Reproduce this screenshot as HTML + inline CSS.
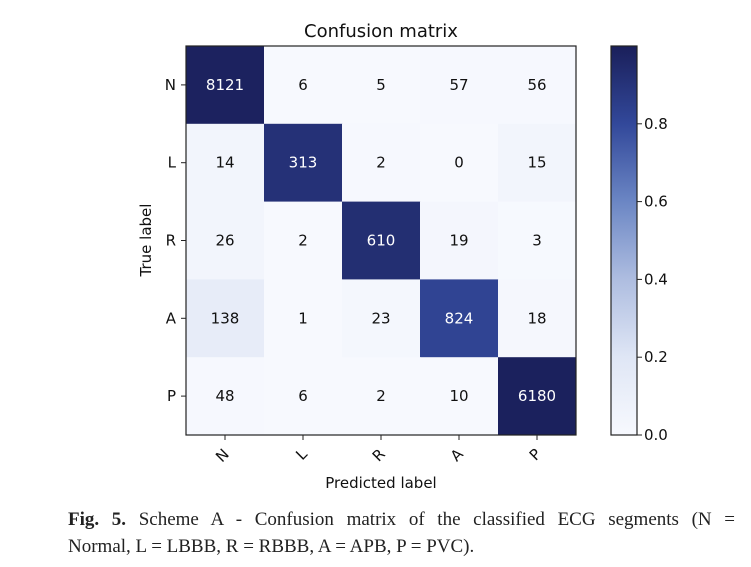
<!DOCTYPE html>
<html><head><meta charset="utf-8"><style>
body{margin:0;background:#fff;width:751px;height:567px;overflow:hidden;font-family:"DejaVu Sans","Liberation Sans",sans-serif}
.cap{position:absolute;left:68px;width:667px;top:506px;font-family:"Liberation Serif",serif;font-size:19px;line-height:27px;color:#222}
.l1{text-align:justify;text-align-last:justify;white-space:nowrap;word-spacing:-1px}
</style></head><body>
<svg id="chart" width="751" height="500" style="position:absolute;left:0;top:0">
<defs><linearGradient id="cb" x1="0" y1="1" x2="0" y2="0">
<stop offset="0" stop-color="#f7f9fe"/><stop offset="0.2" stop-color="#dfe6f5"/><stop offset="0.4" stop-color="#aebde0"/><stop offset="0.6" stop-color="#6b86c4"/><stop offset="0.8" stop-color="#32489a"/><stop offset="1" stop-color="#1a1f5a"/></linearGradient></defs>
<text x="381" y="37" text-anchor="middle" font-size="18" fill="#111">Confusion matrix</text>
<g id="cells"></g>
<rect x="186" y="46" width="390" height="389" fill="none" stroke="#222" stroke-width="1.2"/>
<g id="ticks"></g>
<text transform="translate(151,240) rotate(-90)" text-anchor="middle" font-size="15" fill="#111">True label</text>
<text x="381" y="488" text-anchor="middle" font-size="15" fill="#111">Predicted label</text>
<rect x="611" y="46" width="26" height="389" fill="url(#cb)" stroke="#222" stroke-width="1.2"/>
<g id="cbticks"></g>
</svg>
<div class="cap"><div class="l1"><b>Fig. 5.</b> Scheme A - Confusion matrix of the classified ECG segments (N =</div>Normal, L = LBBB, R = RBBB, A = APB, P = PVC).</div>
<script>
const classes=["N","L","R","A","P"];
const rowN=[8121,6,5,57,56];
const rowL=[14,313,2,0,15];
const rowR=[26,2,610,19,3];
const rowA=[138,1,23,824,18];
const rowP=[48,6,2,10,6180];
const cbTicks=[0,0.2,0.4,0.6,0.8];
const rows=[rowN,rowL,rowR,rowA,rowP];
const X0=186,Y0=46,CW=78,CH=77.8,CBTOP=46,CBBOT=435;
const stops=[[0,[247,249,254]],[0.2,[223,230,245]],[0.4,[174,189,224]],[0.6,[107,134,196]],[0.8,[50,72,154]],[1,[26,31,90]]];
function cmap(v){for(let i=1;i<stops.length;i++){if(v<=stops[i][0]){const a=stops[i-1],b=stops[i],t=(v-a[0])/(b[0]-a[0]);return 'rgb('+a[1].map((c,k)=>Math.round(c+(b[1][k]-c)*t)).join(',')+')';}}return 'rgb(26,31,90)';}
const NS='http://www.w3.org/2000/svg';
function el(t,a){const e=document.createElementNS(NS,t);for(const k in a)e.setAttribute(k,a[k]);return e;}
const g=document.getElementById('cells'),tg=document.getElementById('ticks'),cg=document.getElementById('cbticks');
rows.forEach((r,i)=>{const s=r.reduce((a,b)=>a+b,0);r.forEach((v,j)=>{const n=v/s;
const rc=el('rect',{x:X0+j*CW,y:Y0+i*CH,width:CW+0.5,height:CH+0.5,fill:cmap(n)});

g.appendChild(rc);
const tx=el('text',{x:X0+j*CW+CW/2,y:Y0+i*CH+CH/2+5,'text-anchor':'middle','font-size':15,fill:n>0.5?'#fff':'#111'});

tx.textContent=v;g.appendChild(tx);});});
classes.forEach((c,i)=>{const y=Y0+i*CH+CH/2;
tg.appendChild(el('line',{x1:X0-5,x2:X0,y1:y,y2:y,stroke:'#222'}));
const t=el('text',{x:X0-10,y:y+5,'text-anchor':'end','font-size':15,fill:'#111'});

t.textContent=c;tg.appendChild(t);
const x=X0+i*CW+CW/2;
tg.appendChild(el('line',{x1:x,x2:x,y1:435,y2:440,stroke:'#222'}));
const u=el('text',{transform:'translate('+(x+5)+',455) rotate(-45)','text-anchor':'end','font-size':15,fill:'#111'});

u.textContent=c;tg.appendChild(u);});
cbTicks.forEach(v=>{const y=CBBOT-(CBBOT-CBTOP)*v;
cg.appendChild(el('line',{x1:637,x2:642,y1:y,y2:y,stroke:'#222'}));
const t=el('text',{x:644,y:y+5,'font-size':15,fill:'#111'});

t.textContent=v.toFixed(1);cg.appendChild(t);});
</script>
</body></html>
